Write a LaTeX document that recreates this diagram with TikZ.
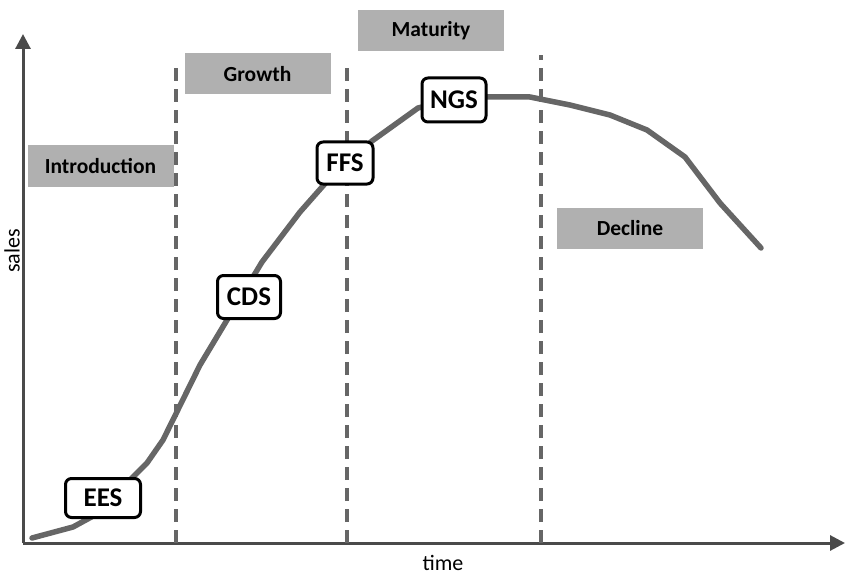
\documentclass[tikz,border=0pt]{standalone}
\usepackage{fontspec}
\setmainfont{Carlito}
\usetikzlibrary{arrows.meta}
\definecolor{axisgray}{HTML}{4A4A4A}
\definecolor{curvegray}{HTML}{666666}
\definecolor{phasegray}{HTML}{B0B0B0}
\tikzset{
  phase/.style={fill=phasegray, draw=none, minimum width=146pt, minimum height=41pt,
    inner sep=0pt, font=\fontsize{21.5}{23}\selectfont\bfseries},
  stage/.style={fill=white, draw=black, line width=3pt, rounded corners=6pt,
    inner sep=0pt, font=\fontsize{27}{29}\selectfont\bfseries},
  divider/.style={curvegray, line width=3.5pt, dash pattern=on 13pt off 8pt}
}
\begin{document}
\begin{tikzpicture}[x=1pt, y=-1pt, >={Triangle[length=15pt,width=15pt]}, line join=round]
  \useasboundingbox (0,0) rectangle (846,575);

  % Axes
  \coordinate (O) at (23,543);
  \coordinate (X) at (845,543);
  \coordinate (Y) at (23,34);
  \draw[->, axisgray, line width=3pt] (O) -- (X);
  \draw[->, axisgray, line width=3pt] (O) -- (Y);
  \node[rotate=90, font=\fontsize{22}{24}\selectfont] (sales) at (12,251) {sales};
  \node[font=\fontsize{22}{24}\selectfont] (time) at (443,563) {time};

  % Phase borders
  \draw[divider] (176,543) -- (176,66);
  \draw[divider] (347,543) -- (347,64);
  \draw[divider] (541,543) -- (541,55);

  % Phases
  \node[phase] (intro) at (100.5,166) {Introduction};
  \node[phase] (growth) at (257.5,74) {Growth};
  \node[phase] (maturity) at (431,31) {Maturity};
  \node[phase] (decline) at (630,228.5) {Decline};

  % Sales curve
  \draw[curvegray, line width=5.5pt, line cap=round]
    (32,538) -- (73,527) -- (95,515) -- (147,463) -- (163,440) -- (200,365)
    -- (230,315) -- (262,262) -- (300,212) -- (330,178) -- (372,141)
    -- (418,108) -- (460,97) -- (530,97) -- (570,105) -- (610,115)
    -- (647,130) -- (685,157) -- (720,203) -- (761,248);

  % Stages
  \node[stage, minimum width=75pt, minimum height=39pt] (ees) at (103,498) {EES};
  \node[stage, minimum width=63pt, minimum height=43pt] (cds) at (249,297) {CDS};
  \node[stage, minimum width=56pt, minimum height=42pt] (ffs) at (345,163) {FFS};
  \node[stage, minimum width=64pt, minimum height=44pt] (ngs) at (454,100) {NGS};
\end{tikzpicture}
\end{document}
